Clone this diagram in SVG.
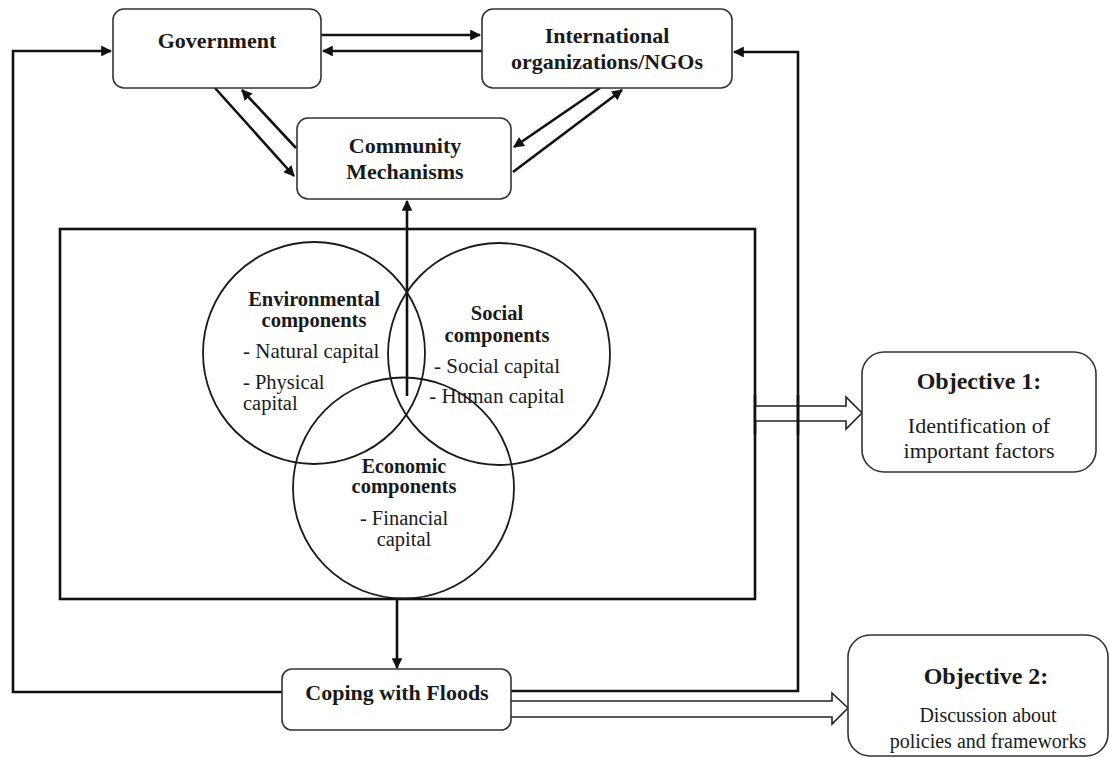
<svg xmlns="http://www.w3.org/2000/svg" width="1110" height="757" viewBox="0 0 1110 757">
<defs>
<marker id="ah" viewBox="0 0 10 10" refX="9" refY="5" markerWidth="4.2" markerHeight="4.2" orient="auto" markerUnits="strokeWidth">
<path d="M0,0 L10,5 L0,10 z" fill="#111"/>
</marker>
<style>
.box{fill:#fff;stroke:#333;stroke-width:1.6}
.con{fill:none;stroke:#111;stroke-width:2.6}
.conh{fill:none;stroke:#111;stroke-width:2.6;marker-end:url(#ah)}
.circ{fill:none;stroke:#1a1a1a;stroke-width:1.8}
.hollow{fill:#fff;stroke:#222;stroke-width:1.6}
.b{font-family:"Liberation Serif","Times New Roman",serif;font-weight:bold;fill:#1a1a1a;text-anchor:middle}
.r{font-family:"Liberation Serif","Times New Roman",serif;fill:#1a1a1a}
.m{text-anchor:middle}
</style>
</defs>
<rect id="framebox" x="60" y="229" width="695" height="370" fill="none" stroke="#111" stroke-width="2.6"/>
<g id="hollow-arrows">
<path class="hollow" d="M755,406 L846,406 L846,397 L862,413 L846,429 L846,421 L755,421"/>
<path class="hollow" d="M511,701 L832,701 L832,693 L848,708 L832,724 L832,717 L511,717"/>
</g>
<g id="connectors">
<path class="conh" d="M321,35 L480,35"/>
<path class="conh" d="M482,51 L323,51"/>
<path class="conh" d="M215,88 L294,176"/>
<path class="conh" d="M296,148 L242,90"/>
<path class="conh" d="M600,88 L514,147"/>
<path class="conh" d="M513,172 L622,90"/>
<path class="conh" d="M282,692 L13,692 L13,51 L111,51"/>
<path class="conh" d="M511,691 L798,691 L798,52 L734,52"/>
<path class="conh" d="M407,396 L407,201"/>
<path class="conh" d="M397,599 L397,668"/>
<line class="con" x1="755" y1="395" x2="755" y2="435"/>
<line class="con" x1="798" y1="395" x2="798" y2="435"/>
</g>
<g id="government">
<rect class="box" x="113" y="9" width="208" height="79" rx="11"/>
<text class="b" x="217" y="48" font-size="22">Government</text>
</g>
<g id="international">
<rect class="box" x="482" y="9" width="250" height="79" rx="11"/>
<text class="b" x="607" y="43" font-size="22">International</text>
<text class="b" x="607" y="69" font-size="22">organizations/NGOs</text>
</g>
<g id="community">
<rect class="box" x="297" y="118" width="214" height="81" rx="11"/>
<text class="b" x="405" y="153" font-size="22">Community</text>
<text class="b" x="405" y="179" font-size="22">Mechanisms</text>
</g>
<g id="environmental">
<circle class="circ" cx="314" cy="353" r="111"/>
<text class="b" x="314" y="306" font-size="20.5">Environmental</text>
<text class="b" x="314" y="327" font-size="20.5">components</text>
<text class="r" x="243" y="358" font-size="21">- Natural capital</text>
<text class="r" x="243" y="389" font-size="20.5">- Physical</text>
<text class="r" x="243" y="410" font-size="20.5">capital</text>
</g>
<g id="social">
<circle class="circ" cx="499" cy="354" r="111"/>
<text class="b" x="497" y="320" font-size="20.5">Social</text>
<text class="b" x="497" y="342" font-size="20.5">components</text>
<text class="r m" x="497" y="373" font-size="21">- Social capital</text>
<text class="r m" x="497" y="403" font-size="21">- Human capital</text>
</g>
<g id="economic">
<circle class="circ" cx="403.5" cy="488" r="110.5"/>
<text class="b" x="404" y="473" font-size="20">Economic</text>
<text class="b" x="404" y="493" font-size="20.5">components</text>
<text class="r m" x="404" y="525" font-size="20.5">- Financial</text>
<text class="r m" x="404" y="546" font-size="20.5">capital</text>
</g>
<g id="coping">
<rect class="box" x="282" y="669" width="229" height="61" rx="10"/>
<text class="b" x="397" y="700" font-size="22">Coping with Floods</text>
</g>
<g id="objective1">
<rect class="box" x="862" y="352" width="234" height="120" rx="22"/>
<text class="b" x="979" y="389" font-size="24">Objective 1:</text>
<text class="r m" x="979" y="433" font-size="22">Identification of</text>
<text class="r m" x="979" y="458" font-size="22">important factors</text>
</g>
<g id="objective2">
<rect class="box" x="848" y="635" width="260" height="121" rx="22"/>
<text class="b" x="986" y="684" font-size="24">Objective 2:</text>
<text class="r m" x="988" y="722" font-size="20">Discussion about</text>
<text class="r m" x="988" y="748" font-size="20">policies and frameworks</text>
</g>
</svg>
